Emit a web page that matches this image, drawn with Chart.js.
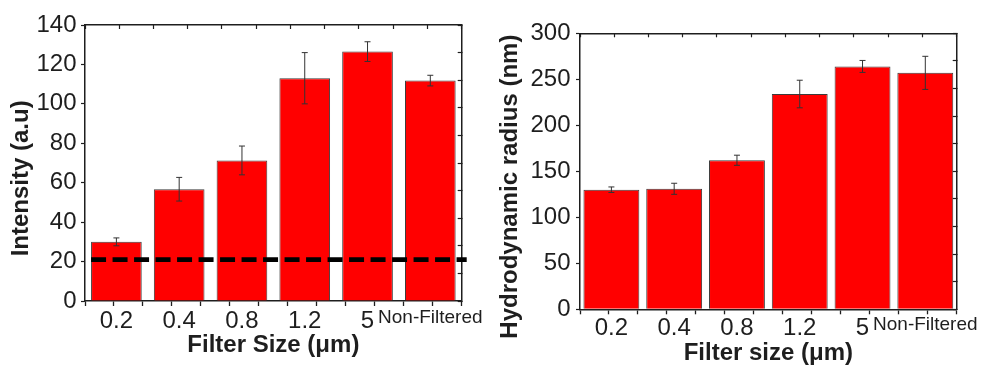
<!DOCTYPE html>
<html lang="en">
<head>
  <meta charset="UTF-8">
  <title>Filter size vs intensity and hydrodynamic radius</title>
  <script src="https://cdn.jsdelivr.net/npm/chart.js"></script>
  <style>
    body {
      margin: 0;
      background: #fff;
    }
    .wrap {
      position: relative;
      width: 993px;
      height: 368px;
    }
    .panel {
      position: absolute;
      top: 0;
      height: 368px;
    }
    #panel-left { left: 0; width: 495px; }
    #panel-right { left: 495px; width: 498px; }
  </style>
</head>
<body>
  <div class="wrap">
    <div class="panel" id="panel-left"><canvas id="intensityChart"></canvas></div>
    <div class="panel" id="panel-right"><canvas id="radiusChart"></canvas></div>
  </div>

  <script>
    const filterSizes = ['0.2', '0.4', '0.8', '1.2', '5', 'Non-Filtered'];
    const intensity = [30, 56.7, 71.3, 113, 126.5, 111.8];
    const intensityErr = [2, 6, 7.3, 13, 5, 2.7];
    const intensityBaseline = 21;
    const radius = [130, 131, 162, 234, 264, 257];
    const radiusErr = [3, 6, 5.5, 15, 6.5, 18];

    const FONT = '"Liberation Sans", Arial, sans-serif';
    const INK = '#1e1e1e';
    // the y titles sit a little below the axis middle in the original
    const TITLE_SHIFT = '\u2002\u2002 ';
    Chart.defaults.font.family = FONT;
    Chart.defaults.color = INK;

    // error bars drawn from the value +/- error through the y scale
    const errorBars = {
      id: 'errorBars',
      afterDatasetsDraw(chart, args, opts) {
        if (!opts.errors) return;
        const y = chart.scales.y;
        const ctx = chart.ctx;
        const vals = chart.data.datasets[0].data;
        ctx.save();
        ctx.strokeStyle = '#333';
        ctx.lineWidth = 1;
        chart.getDatasetMeta(0).data.forEach((bar, i) => {
          const top = y.getPixelForValue(vals[i] + opts.errors[i]);
          const bot = y.getPixelForValue(vals[i] - opts.errors[i]);
          ctx.beginPath();
          ctx.moveTo(bar.x, top); ctx.lineTo(bar.x, bot);
          ctx.moveTo(bar.x - 3, top); ctx.lineTo(bar.x + 3, top);
          ctx.moveTo(bar.x - 3, bot); ctx.lineTo(bar.x + 3, bot);
          ctx.stroke();
        });
        ctx.restore();
      }
    };

    // dashed horizontal reference level
    const refLine = {
      id: 'refLine',
      afterDatasetsDraw(chart, args, opts) {
        if (opts.value == null) return;
        const ctx = chart.ctx;
        const yp = chart.scales.y.getPixelForValue(opts.value);
        const first = chart.getDatasetMeta(0).data[0];
        ctx.save();
        ctx.strokeStyle = '#000';
        ctx.lineWidth = 4.7;
        ctx.setLineDash([15, 6.5]);
        ctx.beginPath();
        ctx.moveTo(first.x - first.width / 2, yp);
        ctx.lineTo(chart.chartArea.right + 5, yp);
        ctx.stroke();
        ctx.restore();
      }
    };

    function frameAxis(axis, position, max, size) {
      return {
        type: 'linear', axis: axis, position: position, min: 0, max: max,
        ticks: { display: false, stepSize: 1, maxTicksLimit: 50 },
        grid: { drawOnChartArea: false, tickLength: -4, tickColor: INK, tickWidth: 1.2 },
        border: { color: INK, width: 1.5 },
        afterFit: s => { if (axis === 'x') s.height = size; else s.width = size; }
      };
    }

    function barChart(id, o) {
      return new Chart(document.getElementById(id), {
        type: 'bar',
        data: {
          labels: filterSizes,
          datasets: [{
            data: o.values,
            backgroundColor: '#ff0000',
            borderColor: '#3c3c3c',
            borderWidth: 1,
            barPercentage: o.barPct,
            categoryPercentage: 1,
            xAxisID: 'x',
            yAxisID: 'y'
          }]
        },
        plugins: [errorBars, refLine],
        options: {
          responsive: true,
          maintainAspectRatio: false,
          animation: false,
          layout: { padding: 0 },
          plugins: {
            legend: { display: false },
            tooltip: { enabled: false },
            errorBars: { errors: o.errors },
            refLine: { value: o.ref }
          },
          scales: {
            x: {
              type: 'category', position: 'bottom', weight: 1, offset: true,
              grid: { display: false, drawTicks: false },
              border: { display: false },
              ticks: {
                color: INK, padding: o.xTickPad, maxRotation: 0, autoSkip: false,
                font: c => ({ family: FONT, size: c.tick && c.tick.label.length > 4 ? 19 : 24 })
              },
              title: {
                display: true, text: o.xTitle, color: INK,
                font: { family: FONT, size: 24, weight: 'bold' },
                padding: { top: 0, bottom: o.xTitlePad }
              },
              afterFit: s => { s.height = o.bottom; }
            },
            xMinor: {
              type: 'linear', axis: 'x', position: 'bottom', weight: 0, min: 0, max: 12,
              ticks: { display: false, stepSize: 1, maxTicksLimit: 50 },
              grid: { drawOnChartArea: false, tickLength: 5, tickColor: INK, tickWidth: 1.3 },
              border: { color: INK, width: 1.5 },
              afterFit: s => { s.height = 0; }
            },
            xTop: frameAxis('x', 'top', 10, o.top),
            y: {
              type: 'linear', position: 'left', min: 0, max: o.yMax,
              ticks: {
                stepSize: o.yStep, maxTicksLimit: 50, color: INK, padding: o.yTickPad,
                font: { family: FONT, size: 24 },
                callback: v => (v % (o.yStep * 2) === 0 ? v : '')
              },
              grid: { drawOnChartArea: false, tickLength: 4, tickColor: INK, tickWidth: 1.2 },
              border: { color: INK, width: 1.5 },
              title: {
                display: true, text: o.yTitle + TITLE_SHIFT, color: INK,
                font: { family: FONT, size: 24, weight: 'bold' },
                padding: { top: o.yTitlePad, bottom: 0 }
              },
              afterFit: s => { s.width = o.left; }
            },
            yRight: frameAxis('y', 'right', 10, o.right)
          }
        }
      });
    }

    barChart('intensityChart', {
      values: intensity, errors: intensityErr, ref: intensityBaseline,
      yMax: 140, yStep: 10, barPct: 0.807,
      xTitle: 'Filter Size (\u03bcm)', yTitle: 'Intensity (a.u)',
      left: 85, right: 33.3, top: 25, bottom: 67,
      xTickPad: 5.6, xTitlePad: 8.6, yTitlePad: 6.6, yTickPad: 4.5
    });

    barChart('radiusChart', {
      values: radius, errors: radiusErr, ref: null,
      yMax: 300, yStep: 25, barPct: 0.89,
      xTitle: 'Filter size (\u03bcm)', yTitle: 'Hydrodynamic radius (nm)',
      left: 85, right: 36.3, top: 33.3, bottom: 58.7,
      xTickPad: 4.3, xTitlePad: 0.6, yTitlePad: 1.3, yTickPad: 5.5
    });
  </script>
</body>
</html>
